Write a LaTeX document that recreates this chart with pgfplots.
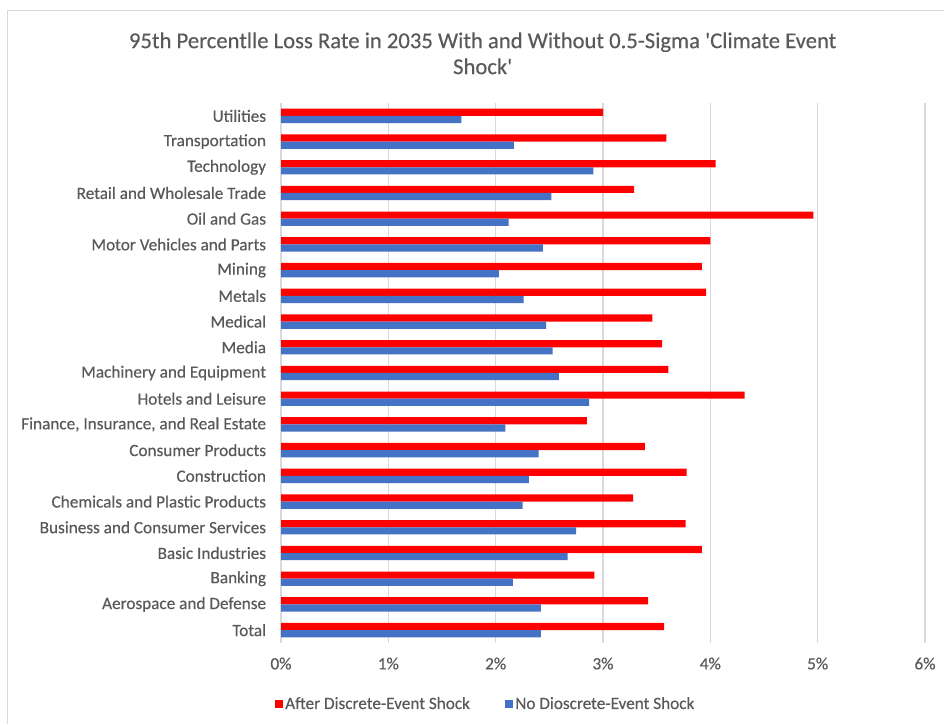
\documentclass[border=0pt]{standalone}
\usepackage{fontspec}
\setmainfont{Carlito}[FakeBold=0.3]
\usepackage{pgfplots}
\pgfplotsset{compat=1.18}
\definecolor{redbar}{HTML}{FF0000}
\definecolor{bluebar}{HTML}{4472C4}
\definecolor{txt}{HTML}{595959}
\definecolor{gridc}{HTML}{D9D9D9}
\begin{document}
\begin{tikzpicture}
\useasboundingbox (0,0) rectangle (708pt,543pt);
\fill[white] (0,0) rectangle (708pt,543pt);
\draw[gridc, line width=1.3pt] (5.6pt,0) -- (5.6pt,535.2pt) -- (708pt,535.2pt);
\node[align=center, text=txt, font=\fontsize{17}{19.5}\selectfont] at (362pt,503pt)
  {95th Percentlle Loss Rate in 2035 With and Without 0.5-Sigma \textquotesingle Climate Event\\Shock\textquotesingle};
\begin{axis}[
  at={(210.75pt,60.75pt)}, anchor=south west,
  scale only axis, width=483pt, height=405pt,
  xmin=0, xmax=6, ymin=-0.5, ymax=20.5,
  xbar, bar width=5.4pt,
  xtick={0,1,2,3,4,5,6},
  xticklabels={0\%,1\%,2\%,3\%,4\%,5\%,6\%},
  ytick={0,...,20},
  yticklabels={Total,Aerospace and Defense,Banking,Basic Industries,Business and Consumer Services,Chemicals and Plastic Products,Construction,Consumer Products,{Finance, Insurance, and Real Estate},Hotels and Leisure,Machinery and Equipment,Media,Medical,Metals,Mining,Motor Vehicles and Parts,Oil and Gas,Retail and Wholesale Trade,Technology,Transportation,Utilities},
  xmajorgrids, major grid style={gridc, line width=1pt},
  axis line style={draw=none}, tick style={draw=none},
  xticklabel style={font=\fontsize{12.9}{14}\selectfont, text=txt, anchor=base, inner sep=0pt, yshift=-19.75pt},
  yticklabel style={font=\fontsize{12.9}{14}\selectfont, text=txt, anchor=east, inner sep=0pt, xshift=-6.75pt},
  legend columns=2,
  legend style={draw=none, fill=none, at={(axis description cs:0.318,-0.113)}, anchor=center,
    font=\fontsize{12.9}{14}\selectfont, text=txt,
    /tikz/every even column/.append style={column sep=24pt}},
  legend image code/.code={\fill[#1] (0pt,-3pt) rectangle (6pt,3pt);},
]
\addplot[fill=redbar, draw=none, bar shift=2.7pt] coordinates {
(3.57,0) (3.42,1) (2.92,2) (3.92,3) (3.77,4) (3.28,5) (3.78,6) (3.39,7) (2.85,8) (4.32,9) (3.61,10) (3.55,11) (3.46,12) (3.96,13) (3.92,14) (4.00,15) (4.96,16) (3.29,17) (4.05,18) (3.59,19) (3.00,20)};
\addlegendentry{After Discrete-Event Shock}
\addplot[fill=bluebar, draw=none, bar shift=-2.7pt] coordinates {
(2.42,0) (2.42,1) (2.16,2) (2.67,3) (2.75,4) (2.25,5) (2.31,6) (2.40,7) (2.09,8) (2.87,9) (2.59,10) (2.53,11) (2.47,12) (2.26,13) (2.03,14) (2.44,15) (2.12,16) (2.52,17) (2.91,18) (2.17,19) (1.68,20)};
\addlegendentry{No Dioscrete-Event Shock}
\end{axis}
\end{tikzpicture}
\end{document}
